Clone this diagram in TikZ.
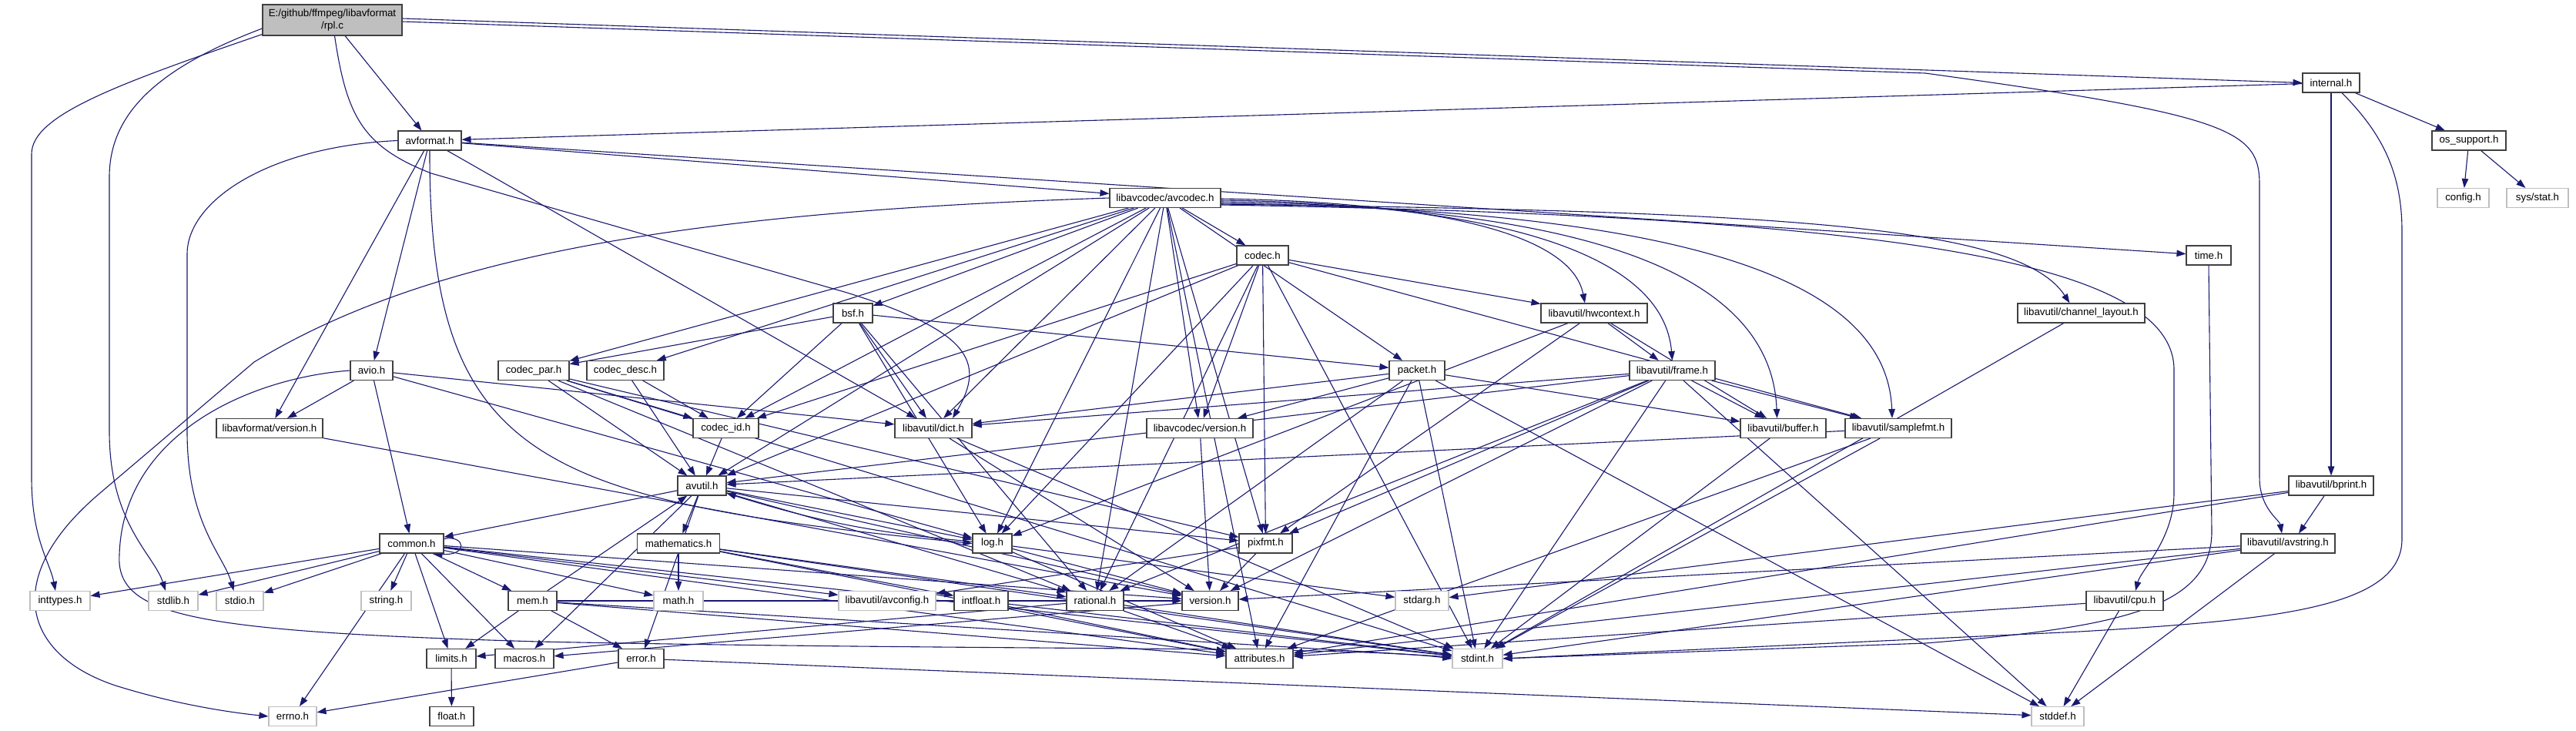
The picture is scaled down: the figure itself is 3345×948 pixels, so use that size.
\documentclass[tikz,border=0pt]{standalone}
\usepackage{fontspec}
\setmainfont{Liberation Sans}
\usetikzlibrary{arrows.meta,backgrounds}
\definecolor{edgec}{HTML}{191970}
\definecolor{nodeb}{HTML}{404040}
\definecolor{grayb}{HTML}{BFBFBF}
\tikzset{
  box/.style={draw=nodeb, line width=1.1pt, fill=white, minimum height=25pt, inner sep=0pt, font=\fontsize{13.3}{16}\selectfont},
  sysbox/.style={box, draw=grayb},
  rootbox/.style={box, fill=grayb, minimum height=40pt, align=center},
  edge/.style={draw=edgec, line width=1.1pt, -{Triangle[length=12pt,width=8.5pt]}},
}
\newcommand\mknode[6]{\node[#1,minimum width=#5pt] (#2) at (#3,#4) {#6};}
\begin{document}
\begin{tikzpicture}[x=1pt,y=-1pt]
\useasboundingbox (0,0) rectangle (3345,948);
% nodes
\mknode{rootbox}{rpl}{431.5}{26}{181}{E:/github/ffmpeg/libavformat\\/rpl.c}
\mknode{box}{internal}{3027}{107.5}{74}{internal.h}
\mknode{box}{avformat}{558}{182.5}{82}{avformat.h}
\mknode{box}{ossupport}{3206}{182.5}{96}{os\_support.h}
\mknode{box}{avcodec}{1513}{257}{144}{libavcodec/avcodec.h}
\mknode{sysbox}{config}{3198.5}{257}{67}{config.h}
\mknode{sysbox}{sysstat}{3295}{257}{80}{sys/stat.h}
\mknode{box}{codec}{1639.5}{331.5}{67}{codec.h}
\mknode{box}{time}{2868}{331.5}{58}{time.h}
\mknode{box}{bsf}{1107.5}{406.5}{51}{bsf.h}
\mknode{box}{hwcontext}{2070}{406.5}{138}{libavutil/hwcontext.h}
\mknode{box}{chlayout}{2702.5}{406.5}{165}{libavutil/channel\_layout.h}
\mknode{box}{avio}{482.5}{481}{55}{avio.h}
\mknode{box}{codecpar}{693}{481}{92}{codec\_par.h}
\mknode{box}{codecdesc}{812}{481}{100}{codec\_desc.h}
\mknode{box}{packet}{1840}{481}{72}{packet.h}
\mknode{box}{frame}{2171.5}{481}{111}{libavutil/frame.h}
\mknode{box}{lavfversion}{350}{556}{138}{libavformat/version.h}
\mknode{box}{codecid}{942.5}{556}{85}{codec\_id.h}
\mknode{box}{dict}{1212}{556}{100}{libavutil/dict.h}
\mknode{box}{lavcversion}{1558}{556}{138}{libavcodec/version.h}
\mknode{box}{buffer}{2315.5}{556}{111}{libavutil/buffer.h}
\mknode{box}{samplefmt}{2465}{556}{138}{libavutil/samplefmt.h}
\mknode{box}{avutil}{911.5}{630.5}{63}{avutil.h}
\mknode{box}{bprint}{3027}{630.5}{110}{libavutil/bprint.h}
\mknode{box}{common}{534.5}{705.5}{83}{common.h}
\mknode{box}{mathematics}{881}{705.5}{107}{mathematics.h}
\mknode{box}{log}{1288.5}{705.5}{51}{log.h}
\mknode{box}{pixfmt}{1643.5}{705.5}{69}{pixfmt.h}
\mknode{box}{avstring}{2971}{705.5}{122}{libavutil/avstring.h}
\mknode{sysbox}{inttypes}{78}{780}{78}{inttypes.h}
\mknode{sysbox}{stdlib}{225}{780}{64}{stdlib.h}
\mknode{sysbox}{stdio}{311.5}{780}{61}{stdio.h}
\mknode{sysbox}{string}{501.5}{780}{65}{string.h}
\mknode{box}{mem}{691.5}{780}{63}{mem.h}
\mknode{sysbox}{math}{881}{780}{64}{math.h}
\mknode{sysbox}{avconfig}{1152}{780}{126}{libavutil/avconfig.h}
\mknode{box}{intfloat}{1274}{780}{70}{intfloat.h}
\mknode{box}{rational}{1422}{780}{74}{rational.h}
\mknode{box}{version}{1571.5}{780}{73}{version.h}
\mknode{sysbox}{stdarg}{1846.5}{780}{69}{stdarg.h}
\mknode{box}{cpu}{2759}{780}{100}{libavutil/cpu.h}
\mknode{box}{limits}{586}{855}{64}{limits.h}
\mknode{box}{macros}{681}{855}{76}{macros.h}
\mknode{box}{error}{832.5}{855}{59}{error.h}
\mknode{box}{attributes}{1635.5}{855}{87}{attributes.h}
\mknode{sysbox}{stdint}{1918.5}{855}{65}{stdint.h}
\mknode{sysbox}{errno}{380}{930}{62}{errno.h}
\mknode{box}{float}{586.5}{930}{57}{float.h}
\mknode{sysbox}{stddef}{2672}{930}{68}{stddef.h}
% edges
\begin{pgfonlayer}{background}
\fill[white] (0,0) rectangle (3345,948);
\foreach \s/\t in {
  rpl/avformat,
  internal/avformat, internal/ossupport, internal/bprint,
  ossupport/config, ossupport/sysstat,
  avformat/time, avformat/avcodec, avformat/dict, avformat/avio, avformat/lavfversion,
  avio/common, avio/dict, avio/log, avio/lavfversion,
  avcodec/attributes, avcodec/avutil, avcodec/dict,
  avcodec/log, avcodec/pixfmt, avcodec/rational,
  avcodec/bsf, avcodec/codec, avcodec/codecdesc, avcodec/codecpar, avcodec/codecid,
  avcodec/packet, avcodec/lavcversion,
  bsf/dict, bsf/log, bsf/rational, bsf/codecid, bsf/codecpar, bsf/packet,
  codec/stdint, codec/avutil, codec/hwcontext, codec/log, codec/pixfmt, codec/rational,
  codec/samplefmt, codec/codecid, codec/lavcversion,
  codecdesc/avutil, codecdesc/codecid,
  codecpar/stdint, codecpar/avutil, codecpar/rational, codecpar/pixfmt, codecpar/codecid,
  codecid/avutil,
  packet/stddef, packet/stdint, packet/attributes, packet/buffer, packet/dict,
  packet/rational, packet/lavcversion,
  lavcversion/version, lavfversion/version,
  hwcontext/buffer, hwcontext/frame, hwcontext/log, hwcontext/pixfmt,
  frame/stddef, frame/stdint, frame/avutil, frame/buffer, frame/dict, frame/rational,
  frame/samplefmt, frame/pixfmt, frame/version,
  buffer/stdint,
  samplefmt/stdint, samplefmt/avutil, samplefmt/attributes,
  chlayout/stdint,
  cpu/stddef, cpu/attributes,
  dict/stdint, dict/version,
  log/stdarg, log/attributes, log/version,
  pixfmt/avconfig, pixfmt/version,
  rational/stdint, rational/limits, rational/attributes,
  avutil/common, avutil/error, avutil/rational, avutil/version, avutil/macros,
  avutil/mathematics, avutil/log, avutil/pixfmt,
  common/errno, common/inttypes, common/limits, common/math, common/stdint, common/stdio,
  common/stdlib, common/string, common/attributes, common/macros, common/version,
  common/avconfig, common/mem,
  mem/limits, mem/stdint, mem/attributes, mem/error, mem/avutil, mem/version,
  error/errno, error/stddef,
  mathematics/stdint, mathematics/math, mathematics/attributes, mathematics/rational,
  mathematics/intfloat,
  intfloat/stdint, intfloat/attributes,
  version/macros,
  limits/float,
  avstring/stddef, avstring/stdint, avstring/attributes, avstring/version,
  bprint/stdarg, bprint/attributes}
  \draw[edge] (\s) -- (\t);
% special routes
\draw[edge] (log) to[bend left=6] (avutil);
\draw[edge] (bprint) -- ([xshift=14pt]avstring.north);
\draw[edge] ([yshift=2pt]rpl.east) -- (internal.west);
\draw[edge] ([yshift=-1pt]avcodec.east) .. controls (1850,262) and (2040,300) .. ([xshift=-12pt]hwcontext.north);
\draw[edge] ([yshift=-3pt]avcodec.east) .. controls (1950,265) and (2160,330) .. (frame.north);
\draw[edge] ([yshift=-5pt]avcodec.east) .. controls (2050,268) and (2300,350) .. ([xshift=-8pt]buffer.north);
\draw[edge] ([yshift=-7pt]avcodec.east) .. controls (2150,272) and (2450,350) .. ([xshift=-8pt]samplefmt.north);
\draw[edge] ([yshift=2pt]rpl.south west) .. controls (150,110) and (41,150) .. (41,200) -- (41,620) .. controls (41,700) and (65,730) .. ([xshift=-6pt]inttypes.north);
\draw[edge] ([yshift=-11pt]rpl.west) .. controls (200,90) and (142,150) .. (142,230) -- (142,560) .. controls (142,680) and (200,720) .. ([xshift=-10pt]stdlib.north);
\draw[edge] (avformat.west) .. controls (350,190) and (243,260) .. (243,330) -- (243,560) .. controls (243,680) and (290,720) .. ([xshift=-8pt]stdio.north);
\draw[edge] ([xshift=3pt]rpl.south) .. controls (450,150) and (470,190) .. (560,225) -- (1100,380) .. controls (1260,430) and (1280,470) .. ([xshift=25pt]dict.north);
\draw[edge] ([yshift=-2pt]rpl.east) -- (2500,95) .. controls (2900,150) and (2934,170) .. (2934,240) -- (2934,620) .. controls (2934,660) and (2960,675) .. ([xshift=-8pt]avstring.north);
\draw[edge] ([xshift=14pt]internal.south) .. controls (3090,170) and (3119,220) .. (3119,300) -- (3119,700) .. controls (3119,790) and (2950,805) .. (2700,820) -- (stdint.east);
\draw[edge] (avcodec.west) .. controls (900,275) and (560,330) .. (330,470) -- (130,640) .. controls (0,750) and (30,850) .. (150,890) .. controls (230,915) and (300,925) .. (errno.west);
\draw[edge] (avio.west) .. controls (330,490) and (160,560) .. (155,720) .. controls (150,800) and (250,820) .. (700,833) .. controls (1300,845) and (1750,838) .. (stdint.west);
\draw[edge] (avformat.south) .. controls (557,600) and (700,650) .. (log.west);
\draw[edge] ([yshift=-9pt]avcodec.east) .. controls (2400,280) and (2823,330) .. (2823,480) -- (2823,640) .. controls (2823,700) and (2780,740) .. ([xshift=14pt]cpu.north);
\draw[edge] ([yshift=-8pt]avcodec.east) .. controls (2300,275) and (2620,290) .. ([xshift=-15pt]chlayout.north);
\draw[edge] (time.south) -- (2872,690) .. controls (2872,790) and (2750,815) .. (2500,835) -- (stdint.east);
\draw[edge] ([yshift=6pt]common.east) .. controls (605,694) and (608,722) .. ([xshift=28pt]common.south);
\end{pgfonlayer}
\end{tikzpicture}
\end{document}
